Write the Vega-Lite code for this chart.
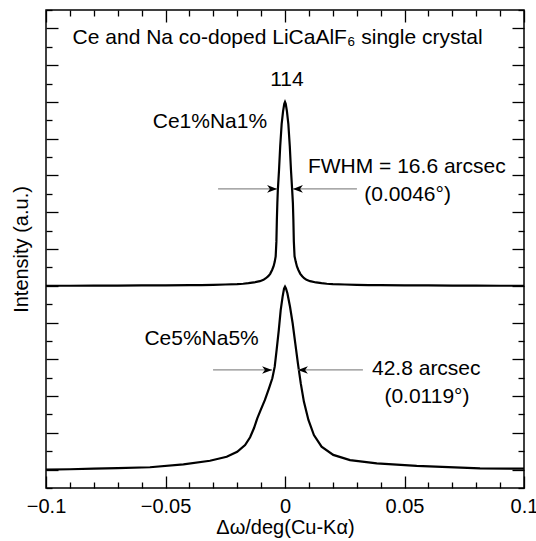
{
  "$schema": "https://vega.github.io/schema/vega-lite/v6.json",
  "width": 478,
  "height": 478,
  "autosize": "none",
  "padding": {"left": 46, "top": 10, "right": 12, "bottom": 53},
  "background": "white",
  "config": {
    "view": {"stroke": "black", "strokeWidth": 1.5},
    "font": "Liberation Sans",
    "axis": {
      "domain": false, "grid": false, "tickColor": "black", "tickWidth": 1.3,
      "labelColor": "black", "titleColor": "black", "labelFont": "Liberation Sans",
      "titleFont": "Liberation Sans", "labelFontSize": 20, "titleFontSize": 20,
      "titleFontWeight": "normal"
    }
  },
  "datasets": {
    "curves": [
      {"series": "Ce1%Na1%", "x": -0.1, "y": 11.0},
      {"series": "Ce1%Na1%", "x": -0.09, "y": 11.0},
      {"series": "Ce1%Na1%", "x": -0.08, "y": 11.01},
      {"series": "Ce1%Na1%", "x": -0.07, "y": 11.01},
      {"series": "Ce1%Na1%", "x": -0.06, "y": 11.02},
      {"series": "Ce1%Na1%", "x": -0.05, "y": 11.02},
      {"series": "Ce1%Na1%", "x": -0.04, "y": 11.03},
      {"series": "Ce1%Na1%", "x": -0.035, "y": 11.04},
      {"series": "Ce1%Na1%", "x": -0.03, "y": 11.05},
      {"series": "Ce1%Na1%", "x": -0.025, "y": 11.07},
      {"series": "Ce1%Na1%", "x": -0.02, "y": 11.09},
      {"series": "Ce1%Na1%", "x": -0.0175, "y": 11.11},
      {"series": "Ce1%Na1%", "x": -0.0153, "y": 11.14},
      {"series": "Ce1%Na1%", "x": -0.013, "y": 11.18},
      {"series": "Ce1%Na1%", "x": -0.0105, "y": 11.25},
      {"series": "Ce1%Na1%", "x": -0.009, "y": 11.32},
      {"series": "Ce1%Na1%", "x": -0.008, "y": 11.41},
      {"series": "Ce1%Na1%", "x": -0.007, "y": 11.52},
      {"series": "Ce1%Na1%", "x": -0.0062, "y": 11.65},
      {"series": "Ce1%Na1%", "x": -0.0054, "y": 11.86},
      {"series": "Ce1%Na1%", "x": -0.0048, "y": 12.05},
      {"series": "Ce1%Na1%", "x": -0.0043, "y": 12.3},
      {"series": "Ce1%Na1%", "x": -0.0039, "y": 12.6},
      {"series": "Ce1%Na1%", "x": -0.0036, "y": 13.4},
      {"series": "Ce1%Na1%", "x": -0.0034, "y": 14.6},
      {"series": "Ce1%Na1%", "x": -0.0032, "y": 15.5},
      {"series": "Ce1%Na1%", "x": -0.003, "y": 16.2},
      {"series": "Ce1%Na1%", "x": -0.0025, "y": 17.3},
      {"series": "Ce1%Na1%", "x": -0.002, "y": 18.6},
      {"series": "Ce1%Na1%", "x": -0.0014, "y": 19.8},
      {"series": "Ce1%Na1%", "x": -0.0008, "y": 20.5},
      {"series": "Ce1%Na1%", "x": -0.0003, "y": 20.9},
      {"series": "Ce1%Na1%", "x": 0.0, "y": 21.0},
      {"series": "Ce1%Na1%", "x": 0.0003, "y": 20.9},
      {"series": "Ce1%Na1%", "x": 0.0008, "y": 20.5},
      {"series": "Ce1%Na1%", "x": 0.0014, "y": 19.8},
      {"series": "Ce1%Na1%", "x": 0.002, "y": 18.6},
      {"series": "Ce1%Na1%", "x": 0.0025, "y": 17.3},
      {"series": "Ce1%Na1%", "x": 0.003, "y": 16.2},
      {"series": "Ce1%Na1%", "x": 0.0033, "y": 15.5},
      {"series": "Ce1%Na1%", "x": 0.0035, "y": 14.6},
      {"series": "Ce1%Na1%", "x": 0.0037, "y": 13.4},
      {"series": "Ce1%Na1%", "x": 0.004, "y": 12.6},
      {"series": "Ce1%Na1%", "x": 0.0045, "y": 12.3},
      {"series": "Ce1%Na1%", "x": 0.005, "y": 12.05},
      {"series": "Ce1%Na1%", "x": 0.0056, "y": 11.86},
      {"series": "Ce1%Na1%", "x": 0.0064, "y": 11.65},
      {"series": "Ce1%Na1%", "x": 0.0072, "y": 11.52},
      {"series": "Ce1%Na1%", "x": 0.008, "y": 11.41},
      {"series": "Ce1%Na1%", "x": 0.009, "y": 11.32},
      {"series": "Ce1%Na1%", "x": 0.0105, "y": 11.25},
      {"series": "Ce1%Na1%", "x": 0.013, "y": 11.18},
      {"series": "Ce1%Na1%", "x": 0.0153, "y": 11.14},
      {"series": "Ce1%Na1%", "x": 0.0175, "y": 11.11},
      {"series": "Ce1%Na1%", "x": 0.02, "y": 11.09},
      {"series": "Ce1%Na1%", "x": 0.025, "y": 11.07},
      {"series": "Ce1%Na1%", "x": 0.03, "y": 11.05},
      {"series": "Ce1%Na1%", "x": 0.035, "y": 11.04},
      {"series": "Ce1%Na1%", "x": 0.04, "y": 11.03},
      {"series": "Ce1%Na1%", "x": 0.05, "y": 11.02},
      {"series": "Ce1%Na1%", "x": 0.06, "y": 11.02},
      {"series": "Ce1%Na1%", "x": 0.07, "y": 11.01},
      {"series": "Ce1%Na1%", "x": 0.08, "y": 11.01},
      {"series": "Ce1%Na1%", "x": 0.09, "y": 11.0},
      {"series": "Ce1%Na1%", "x": 0.1, "y": 11.0},
      {"series": "Ce5%Na5%", "x": -0.1, "y": 1.0},
      {"series": "Ce5%Na5%", "x": -0.09, "y": 1.02},
      {"series": "Ce5%Na5%", "x": -0.08, "y": 1.05},
      {"series": "Ce5%Na5%", "x": -0.07, "y": 1.08},
      {"series": "Ce5%Na5%", "x": -0.0565, "y": 1.13},
      {"series": "Ce5%Na5%", "x": -0.0425, "y": 1.29},
      {"series": "Ce5%Na5%", "x": -0.0314, "y": 1.48},
      {"series": "Ce5%Na5%", "x": -0.0244, "y": 1.7},
      {"series": "Ce5%Na5%", "x": -0.02, "y": 1.97},
      {"series": "Ce5%Na5%", "x": -0.0167, "y": 2.34},
      {"series": "Ce5%Na5%", "x": -0.0146, "y": 2.76},
      {"series": "Ce5%Na5%", "x": -0.013, "y": 3.25},
      {"series": "Ce5%Na5%", "x": -0.0116, "y": 3.79},
      {"series": "Ce5%Na5%", "x": -0.0102, "y": 4.24},
      {"series": "Ce5%Na5%", "x": -0.0084, "y": 4.79},
      {"series": "Ce5%Na5%", "x": -0.0067, "y": 5.42},
      {"series": "Ce5%Na5%", "x": -0.0053, "y": 5.97},
      {"series": "Ce5%Na5%", "x": -0.0043, "y": 6.6},
      {"series": "Ce5%Na5%", "x": -0.0035, "y": 7.51},
      {"series": "Ce5%Na5%", "x": -0.0026, "y": 8.59},
      {"series": "Ce5%Na5%", "x": -0.0018, "y": 9.68},
      {"series": "Ce5%Na5%", "x": -0.001, "y": 10.41},
      {"series": "Ce5%Na5%", "x": -0.0004, "y": 10.85},
      {"series": "Ce5%Na5%", "x": 0.0, "y": 10.95},
      {"series": "Ce5%Na5%", "x": 0.0004, "y": 10.85},
      {"series": "Ce5%Na5%", "x": 0.001, "y": 10.59},
      {"series": "Ce5%Na5%", "x": 0.0021, "y": 9.86},
      {"series": "Ce5%Na5%", "x": 0.0032, "y": 8.96},
      {"series": "Ce5%Na5%", "x": 0.0043, "y": 7.87},
      {"series": "Ce5%Na5%", "x": 0.0054, "y": 6.78},
      {"series": "Ce5%Na5%", "x": 0.0066, "y": 5.69},
      {"series": "Ce5%Na5%", "x": 0.0079, "y": 4.7},
      {"series": "Ce5%Na5%", "x": 0.0098, "y": 3.7},
      {"series": "Ce5%Na5%", "x": 0.0121, "y": 2.88},
      {"series": "Ce5%Na5%", "x": 0.0153, "y": 2.25},
      {"series": "Ce5%Na5%", "x": 0.0202, "y": 1.8},
      {"series": "Ce5%Na5%", "x": 0.0272, "y": 1.52},
      {"series": "Ce5%Na5%", "x": 0.0384, "y": 1.34},
      {"series": "Ce5%Na5%", "x": 0.0551, "y": 1.2},
      {"series": "Ce5%Na5%", "x": 0.0816, "y": 1.07},
      {"series": "Ce5%Na5%", "x": 0.1, "y": 1.05}
    ],
    "arrows": [
      {"x1": -0.028, "x2": -0.0033, "y": 16.27},
      {"x1": 0.0301, "x2": 0.0033, "y": 16.27},
      {"x1": -0.0301, "x2": -0.0054, "y": 6.42},
      {"x1": 0.0326, "x2": 0.0054, "y": 6.42}
    ],
    "heads": [
      {"x": -0.0033, "y": 16.27, "dir": "right"},
      {"x": 0.0033, "y": 16.27, "dir": "left"},
      {"x": -0.0054, "y": 6.42, "dir": "right"},
      {"x": 0.0054, "y": 6.42, "dir": "left"}
    ],
    "centerText": [
      {"label": "Ce and Na co-doped LiCaAlF₆ single crystal", "x": -0.0031, "y": 24.5},
      {"label": "114", "x": 0.0008, "y": 22.2},
      {"label": "Ce1%Na1%", "x": -0.0314, "y": 19.9},
      {"label": "(0.0046°)", "x": 0.0513, "y": 15.94},
      {"label": "Ce5%Na5%", "x": -0.0349, "y": 8.09},
      {"label": "(0.0119°)", "x": 0.0594, "y": 4.95}
    ],
    "leftText": [
      {"label": "FWHM = 16.6 arcsec", "x": 0.0096, "y": 17.46},
      {"label": "42.8 arcsec", "x": 0.0364, "y": 6.47}
    ]
  },
  "layer": [
    {
      "data": {"name": "curves"},
      "mark": {"type": "line", "color": "black", "strokeWidth": 2.2, "interpolate": "linear"},
      "encoding": {
        "x": {
          "field": "x", "type": "quantitative",
          "scale": {"domain": [-0.1, 0.1], "nice": false, "zero": false},
          "axis": {
            "orient": "bottom",
            "values": [-0.1, -0.09, -0.08, -0.07, -0.06, -0.05, -0.04, -0.03, -0.02, -0.01, 0, 0.01, 0.02, 0.03, 0.04, 0.05, 0.06, 0.07, 0.08, 0.09, 0.1],
            "labelExpr": "abs(datum.value*20 - round(datum.value*20)) < 0.000001 ? format(datum.value, '~g') : ''",
            "tickSize": {"condition": {"test": "abs(datum.value*20 - round(datum.value*20)) < 0.000001", "value": -12}, "value": -6},
            "labelPadding": 20,
            "labelFlush": false,
            "labelOverlap": false,
            "title": "Δω/deg(Cu-Kα)",
            "titlePadding": -5
          }
        },
        "y": {
          "field": "y", "type": "quantitative",
          "scale": {"domain": [0, 26], "nice": false, "zero": false},
          "axis": {
            "orient": "left",
            "values": [0,1,2,3,4,5,6,7,8,9,10,11,12,13,14,15,16,17,18,19,20,21,22,23,24,25,26],
            "labels": false,
            "tickSize": {"condition": {"test": "datum.value % 2 == 1", "value": -12}, "value": -6},
            "title": "Intensity (a.u.)",
            "titlePadding": 14
          }
        },
        "detail": {"field": "series", "type": "nominal"}
      }
    },
    {
      "data": {"name": "arrows"},
      "mark": {"type": "rule", "color": "#8c8c8c", "strokeWidth": 1.3},
      "encoding": {
        "x": {
          "field": "x1", "type": "quantitative",
          "axis": {
            "orient": "top",
            "values": [-0.1, -0.09, -0.08, -0.07, -0.06, -0.05, -0.04, -0.03, -0.02, -0.01, 0, 0.01, 0.02, 0.03, 0.04, 0.05, 0.06, 0.07, 0.08, 0.09, 0.1],
            "labels": false,
            "tickSize": {"condition": {"test": "abs(datum.value*20 - round(datum.value*20)) < 0.000001", "value": -12}, "value": -6},
            "title": null
          }
        },
        "x2": {"field": "x2"},
        "y": {
          "field": "y", "type": "quantitative",
          "axis": {
            "orient": "right",
            "values": [0,1,2,3,4,5,6,7,8,9,10,11,12,13,14,15,16,17,18,19,20,21,22,23,24,25,26],
            "labels": false,
            "tickSize": {"condition": {"test": "datum.value % 2 == 1", "value": -12}, "value": -6},
            "title": null
          }
        }
      }
    },
    {
      "data": {"name": "heads"},
      "mark": {"type": "point", "filled": true, "color": "black", "opacity": 1, "strokeWidth": 0},
      "encoding": {
        "x": {"field": "x", "type": "quantitative", "axis": null},
        "y": {"field": "y", "type": "quantitative", "axis": null},
        "shape": {
          "field": "dir", "type": "nominal", "legend": null,
          "scale": {"domain": ["right", "left"], "range": ["M0,0L-1,-0.38L-0.72,0L-1,0.38Z", "M0,0L1,-0.38L0.72,0L1,0.38Z"]}
        },
        "size": {"value": 400}
      }
    },
    {
      "data": {"name": "centerText"},
      "mark": {"type": "text", "align": "center", "baseline": "middle", "fontSize": 21, "font": "Liberation Sans", "color": "black"},
      "encoding": {
        "x": {"field": "x", "type": "quantitative", "axis": null},
        "y": {"field": "y", "type": "quantitative", "axis": null},
        "text": {"field": "label"}
      }
    },
    {
      "data": {"name": "leftText"},
      "mark": {"type": "text", "align": "left", "baseline": "middle", "fontSize": 21, "font": "Liberation Sans", "color": "black"},
      "encoding": {
        "x": {"field": "x", "type": "quantitative", "axis": null},
        "y": {"field": "y", "type": "quantitative", "axis": null},
        "text": {"field": "label"}
      }
    }
  ],
  "resolve": {"axis": {"x": "independent", "y": "independent"}}
}
